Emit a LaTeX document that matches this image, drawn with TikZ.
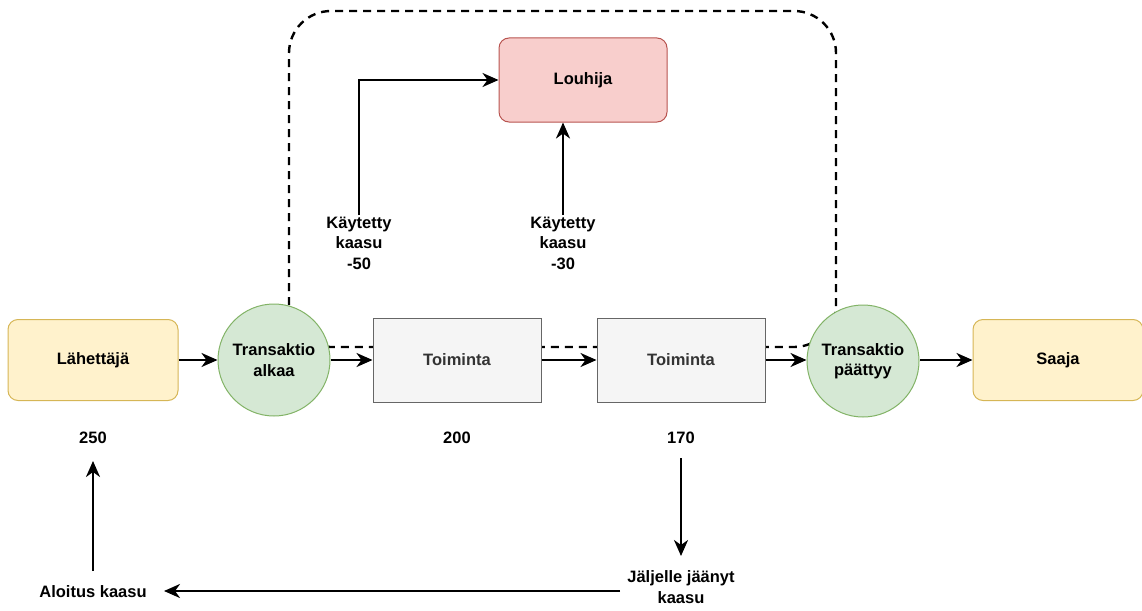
\documentclass[tikz,border=0pt]{standalone}
\usepackage{fontspec}
\setmainfont{Liberation Sans}
\usetikzlibrary{arrows.meta,shapes.geometric}
\definecolor{yelFill}{HTML}{FFF2CC}\definecolor{yelLine}{HTML}{D6B656}
\definecolor{grnFill}{HTML}{D5E8D4}\definecolor{grnLine}{HTML}{82B366}
\definecolor{gryFill}{HTML}{F5F5F5}\definecolor{gryLine}{HTML}{666666}
\definecolor{gryText}{HTML}{333333}
\definecolor{redFill}{HTML}{F8CECC}\definecolor{redLine}{HTML}{B85450}
\tikzset{
  lbl/.style={font=\fontsize{16.5}{20.5}\selectfont\bfseries, align=center, inner sep=0pt, text=black},
  yelbox/.style={lbl, draw=yelLine, fill=yelFill, rounded corners=10pt, minimum width=170pt, minimum height=81pt, line width=1pt},
  grnbox/.style={lbl, circle, draw=grnLine, fill=grnFill, minimum size=112pt, line width=1pt},
  grybox/.style={lbl, text=gryText, draw=gryLine, fill=gryFill, minimum width=168pt, minimum height=84pt, line width=1pt},
  redbox/.style={lbl, draw=redLine, fill=redFill, rounded corners=10pt, minimum width=168pt, minimum height=84pt, line width=1pt},
  arr/.style={line width=2.4pt, -{Stealth[length=16pt,width=14pt,inset=5pt]}},
  dashedframe/.style={line width=2.4pt, dash pattern=on 8pt off 6pt, rounded corners=42pt}
}
\begin{document}
\begin{tikzpicture}[x=1pt,y=-1pt]
\useasboundingbox (0,0) rectangle (1142,610);
\draw[dashedframe] (289,347) rectangle (836,11);

\node[yelbox] (lah) at (93,360) {Lähettäjä};
\node[grnbox] (alk) at (274,360) {Transaktio\\alkaa};
\node[grybox] (t1) at (457,360) {Toiminta};
\node[grybox] (t2) at (681,360) {Toiminta};
\node[grnbox] (paa) at (863,361) {Transaktio\\päättyy};
\node[yelbox] (saa) at (1058,360) {Saaja};
\node[redbox] (lou) at (583,80) {Louhija};

\node[lbl] (k50) at (359,243) {Käytetty\\kaasu\\-50};
\node[lbl] (k30) at (563,243) {Käytetty\\kaasu\\-30};

\node[lbl] (n250) at (93,438) {250};
\node[lbl] (n200) at (457,438) {200};
\node[lbl] (n170) at (681,438) {170};
\node[lbl] (jal) at (681,587) {Jäljelle jäänyt\\kaasu};
\node[lbl] (alo) at (93,592) {Aloitus kaasu};

\coordinate (k50top) at (359,215);
\coordinate (k30top) at (563,215);
\coordinate (d1) at (681,458);
\coordinate (d2) at (681,556);
\coordinate (h1) at (620,591);
\coordinate (h2) at (164,591);
\coordinate (u1) at (93,571);
\coordinate (u2) at (93,461);

\draw[arr] (lah.east) -- (alk.west);
\draw[arr] (alk.east) -- (t1.west);
\draw[arr] (t1.east) -- (t2.west);
\draw[arr] (t2.east) -- (t2.east -| paa.west);
\draw[arr] (paa.east |- saa.west) -- (saa.west);
\draw[arr] (k50top) |- (lou.west);
\draw[arr] (k30top) -- (k30top |- lou.south);
\draw[arr] (d1) -- (d2);
\draw[arr] (h1) -- (h2);
\draw[arr] (u1) -- (u2);
\end{tikzpicture}
\end{document}
